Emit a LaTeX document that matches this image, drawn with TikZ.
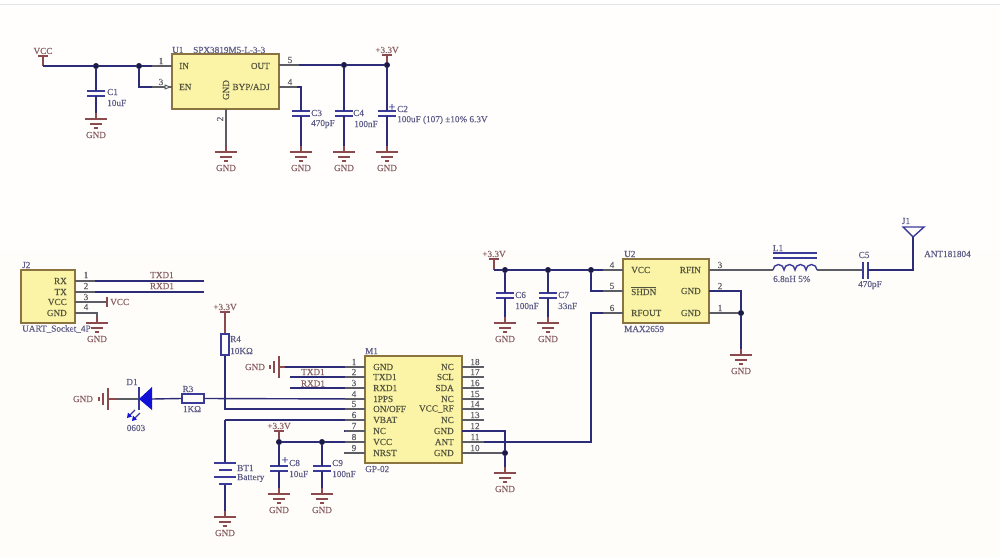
\documentclass[tikz,border=0pt]{standalone}
\usepackage{fontspec}
\setmainfont[RawFeature={embolden=0.35}]{Liberation Serif}
\definecolor{bgc}{HTML}{FFFDF9}
\definecolor{wirec}{HTML}{2C2C78}
\definecolor{pinc}{HTML}{5C5C64}
\definecolor{pwrc}{HTML}{8A4A4E}
\definecolor{capc}{HTML}{3A3A98}
\definecolor{netc}{HTML}{8A6266}
\definecolor{desc}{HTML}{5E5E88}
\definecolor{chipc}{HTML}{55553F}
\definecolor{chipf}{HTML}{FBF4A6}
\definecolor{chipd}{HTML}{8C7440}
\definecolor{ledc}{HTML}{1010D8}
\tikzset{
  x=1pt,y=-1pt,
  wire/.style={draw=wirec,line width=1.4pt},
  pinw/.style={draw=pinc,line width=1.4pt},
  stem/.style={draw=pwrc,line width=1.4pt},
  plate/.style={draw=capc,line width=1.8pt},
  chipbox/.style={draw=chipd,fill=chipf,line width=1.4pt,inner sep=0pt},
  dot/.style={circle,fill=wirec!60!black,inner sep=0pt,minimum size=6pt},
  tx/.style={inner sep=0pt,font=\fontsize{9.2}{10}\selectfont},
  net/.style={tx,text=netc},
  des/.style={tx,text=desc},
  chipl/.style={tx,text=chipc},
  pnum/.style={tx,text=pinc},
}
% ground symbol (down): stem top is the named coordinate
\newcommand\gndd[3]{%
  \coordinate (#1) at (#2,#3-6);
  \draw[stem] (#2,#3-6) -- (#2,#3);
  \draw[stem] (#2-11,#3) -- (#2+11,#3);
  \draw[stem] (#2-6,#3+5) -- (#2+6,#3+5);
  \draw[stem] (#2-2,#3+9) -- (#2+2,#3+9);
  \node[net] (#1-t) at (#2,#3+16) {GND};}
% ground symbol (left)
\newcommand\gndh[4]{%
  \coordinate (#1) at (#2+6,#3);
  \draw[stem] (#2+6,#3) -- (#2,#3);
  \draw[stem] (#2,#3-11) -- (#2,#3+11);
  \draw[stem] (#2-5,#3-6) -- (#2-5,#3+6);
  \draw[stem] (#2-9,#3-2) -- (#2-9,#3+2);
  \node[net] (#1-t) at (#4,#3) {GND};}
% power port
\newcommand\pwr[4]{%
  \coordinate (#1) at (#2,#3);
  \draw[stem] (#2-5,#3) -- (#2+5,#3);
  \node[net] (#1-t) at (#2,#3-5) {#4};}
% capacitor with horizontal plates
\newcommand\capv[3]{%
  \coordinate (#1-a) at (#2,#3);
  \coordinate (#1-b) at (#2,#3+5);
  \draw[plate] (#2-9,#3) -- (#2+9,#3);
  \draw[plate] (#2-9,#3+5) -- (#2+9,#3+5);}
\begin{document}
\begin{tikzpicture}
\useasboundingbox (0,0) rectangle (1000,557);
\fill[white] (0,0) rectangle (1000,557);
\fill[bgc!50!white] (0,6) rectangle (1000,250);
\fill[bgc] (0,250) rectangle (1000,557);
\draw[black!10,line width=1pt] (0,4) -- (1000,4);

%% ---------- Regulator ----------
\node[chipbox,minimum width=107pt,minimum height=55pt] (U1) at (225.5,81.5) {};
\gndd{g1}{96}{119}
\gndd{g2}{226}{152}
\gndd{g3}{301}{152}
\gndd{g4}{344}{152}
\gndd{g5}{387}{152}
\pwr{vcc1}{43}{56}{VCC}
\pwr{v33a}{387}{55}{+3.3V}
\capv{C1}{96}{91}
\capv{C3}{301}{111}
\capv{C4}{344}{111}
\capv{C2}{387}{111}
\coordinate (w1) at (43,66);
\node[dot] (j1) at (96,66) {};
\node[dot] (j2) at (139,66) {};
\coordinate (u1in) at (172,66);
\coordinate (u1en) at (172,87);
\coordinate (w2) at (139,87);
\coordinate (u1out) at (279,65);
\coordinate (u1byp) at (279,87);
\coordinate (w3) at (301,87);
\node[dot] (j3) at (344,65) {};
\node[dot] (j4) at (387,65) {};
\coordinate (u1gnd) at (226,109);
\draw[stem] (vcc1) -- (w1);
\draw[wire] (w1) -- (j1) -- (j2) -- (u1in);
\draw[wire] (j1) -- (C1-a);
\draw[wire] (C1-b) -- (g1);
\draw[wire] (j2) -- (w2) -- (u1en);
\draw[wire] (u1out) -- (j3) -- (j4);
\draw[stem] (v33a) -- (j4);
\draw[wire] (j3) -- (C4-a);
\draw[wire] (C4-b) -- (g4);
\draw[wire] (j4) -- (C2-a);
\draw[wire] (C2-b) -- (g5);
\draw[wire] (u1byp) -- (w3) -- (C3-a);
\draw[wire] (C3-b) -- (g3);
\draw[pinw] (u1gnd) -- (g2);
\draw[pinw] (152,66) -- (u1in);
\draw[pinw] (152,87) -- (u1en);
\draw[pinw] (u1out) -- (299,65);
\draw[pinw] (u1byp) -- (297,87);
\draw[draw=pinc,fill=white,line width=1pt] (165,85) -- (170,87) -- (165,89) -- cycle;
\node[des,anchor=west] (U1d) at (172,50) {U1};
\node[des,anchor=west] (U1v) at (193,50) {SPX3819M5-L-3-3};
\node[chipl,anchor=west] (u1a) at (179,66) {IN};
\node[chipl,anchor=west] (u1b) at (179,87) {EN};
\node[chipl,anchor=east] (u1c) at (270,66) {OUT};
\node[chipl,anchor=east] (u1d) at (270,87) {BYP/ADJ};
\node[chipl,rotate=90] (u1e) at (226,90) {GND};
\node[pnum] (n1) at (161,61) {1};
\node[pnum] (n2) at (161,82) {3};
\node[pnum,rotate=90] (n3) at (220,119) {2};
\node[pnum] (n4) at (290,60) {5};
\node[pnum] (n5) at (290,82) {4};
\node[des,anchor=west] (C1d) at (107,92) {C1};
\node[des,anchor=west] (C1v) at (107,103) {10uF};
\node[des,anchor=west] (C3d) at (311,113) {C3};
\node[des,anchor=west] (C3v) at (311,124) {470pF};
\node[des,anchor=west] (C4d) at (353,113) {C4};
\node[des,anchor=west] (C4v) at (354,124) {100nF};
\node[des,anchor=west] (C2d) at (397,109) {C2};
\node[des,anchor=west] (C2v) at (397,120) {100uF (107) ±10\% 6.3V};
\node[tx,text=capc,font=\fontsize{12}{12}\selectfont] (C2p) at (392,107.5) {+};

%% ---------- UART connector ----------
\node[chipbox,minimum width=54pt,minimum height=53pt] (J2) at (48,296.5) {};
\coordinate (jp1) at (75,281);
\coordinate (jp2) at (75,292);
\coordinate (jp3) at (75,302);
\coordinate (jp4) at (75,313);
\coordinate (jw1) at (204,281);
\coordinate (jw2) at (204,292);
\coordinate (jv) at (107,302);
\coordinate (jg) at (97,313);
\gndd{g6}{97}{323}
\draw[wire] (jp1) -- (jw1);
\draw[wire] (jp2) -- (jw2);
\draw[pinw] (jp1) -- (95,281);
\draw[pinw] (jp2) -- (95,292);
\draw[pinw] (jp3) -- (jv);
\draw[pinw] (jp4) -- (jg) -- (g6);
\draw[stem] (107,297) -- (107,307);
\node[net,anchor=west] (jvt) at (110,302) {VCC};
\node[des,anchor=west] (J2d) at (22,265) {J2};
\node[des,anchor=west] (J2v) at (22,329) {UART\_Socket\_4P};
\node[chipl,anchor=east] (ja) at (67,281) {RX};
\node[chipl,anchor=east] (jb) at (67,292) {TX};
\node[chipl,anchor=east] (jc) at (67,302) {VCC};
\node[chipl,anchor=east] (jd) at (67,313) {GND};
\node[pnum] (n6) at (86,275) {1};
\node[pnum] (n7) at (86,286) {2};
\node[pnum] (n8) at (86,297) {3};
\node[pnum] (n9) at (86,307) {4};
\node[net] (tx1) at (162,275) {TXD1};
\node[net] (rx1) at (162,286) {RXD1};

%% ---------- GP-02 module ----------
\node[chipbox,minimum width=97pt,minimum height=107pt] (M1) at (413.5,409.5) {};
\gndh{g7}{279}{367}{255}
\gndh{g8}{108}{399}{83}
\gndd{g9}{225}{517}
\gndd{g10}{279}{494}
\gndd{g11}{322}{494}
\gndd{g12}{505}{473}
\pwr{v33b}{225}{312}{+3.3V}
\pwr{v33c}{279}{431}{+3.3V}
\capv{C8}{279}{466}
\capv{C9}{322}{466}
% R4, R3
\node[draw=capc,fill=bgc,line width=1.3pt,minimum width=8pt,minimum height=21pt,inner sep=0pt] (R4) at (225,344.5) {};
\node[draw=capc,fill=bgc,line width=1.3pt,minimum width=22pt,minimum height=9pt,inner sep=0pt] (R3) at (193,398.5) {};
\coordinate (m4) at (365,399);
\coordinate (m5) at (365,409);
\coordinate (m6) at (365,420);
\coordinate (w5) at (225,409);
\coordinate (w6) at (225,420);
\coordinate (w7) at (225,463);
\coordinate (m8) at (365,442);
\coordinate (m1) at (365,367);
\coordinate (m2) at (365,377);
\coordinate (m3) at (365,388);
\coordinate (m2a) at (290,377);
\coordinate (m3a) at (290,388);
\coordinate (m7) at (365,431);
\coordinate (m7a) at (344,431);
\coordinate (m9) at (365,453);
\coordinate (m9a) at (344,453);
\node[dot] (j5) at (279,442) {};
\node[dot] (j6) at (322,442) {};
\draw[stem] (v33b) -- (R4.north);
\draw[wire] (R4.south) -- (w5) -- (m5);
\draw[wire] (R3.east) -- (m4);
\draw[wire] (w6) -- (m6);
\draw[wire] (w6) -- (w7);
\coordinate (b2) at (225,484);
\draw[wire] (b2) -- (g9);
\draw[stem] (v33c) -- (j5);
\draw[wire] (j5) -- (j6) -- (m8);
\draw[wire] (j5) -- (C8-a);
\draw[wire] (C8-b) -- (g10);
\draw[wire] (j6) -- (C9-a);
\draw[wire] (C9-b) -- (g11);
\draw[wire] (g7) -- (m1);
\draw[wire] (m2a) -- (m2);
\draw[wire] (m3a) -- (m3);
\draw[wire] (m7a) -- (m7);
\draw[pinw] (m9a) -- (m9);
\foreach \yy in {367,377,388,399,409,420,431,442} \draw[pinw] (345,\yy) -- (365,\yy);
% battery
\draw[plate] (214,463) -- (236,463);
\draw[plate] (219,470) -- (232,470);
\draw[plate] (214,477) -- (236,477);
\draw[plate] (219,484) -- (232,484);
% right-side pins
\foreach \yy in {367,377,388,399,409,420,431,442,453} \draw[pinw] (462,\yy) -- (484,\yy);
\coordinate (mr12) at (462,431);
\coordinate (mr11) at (462,442);
\coordinate (mr10) at (462,453);
\coordinate (w8) at (505,431);
\node[dot] (j7) at (505,453) {};
\draw[wire] (mr12) -- (w8) -- (j7) -- (g12);
\draw[pinw] (mr10) -- (j7);
\node[des,anchor=west] (M1d) at (365,351) {M1};
\node[des,anchor=west] (M1v) at (365,469) {GP-02};
\foreach \nm/\yy/\tt in {a/367/GND,b/377/TXD1,c/388/RXD1,d/399/1PPS,e/409/{ON/OFF},f/420/VBAT,g/431/NC,h/442/VCC,i/453/NRST}
  \node[chipl,anchor=west] (ml\nm) at (373,\yy) {\tt};
\foreach \nm/\yy/\tt in {a/367/NC,b/377/SCL,c/388/SDA,d/399/NC,e/409/VCC\_RF,f/420/NC,g/431/GND,h/442/ANT,i/453/GND}
  \node[chipl,anchor=east] (mr\nm) at (454,\yy) {\tt};
\foreach \yy/\tt in {362/1,372/2,383/3,394/4,404/5,415/6,426/7,437/8,448/9}
  \node[pnum] (ln\tt) at (354,\yy) {\tt};
\foreach \yy/\tt in {362/18,372/17,383/16,394/15,404/14,415/13,426/12,437/11,448/10}
  \node[pnum] (rn\tt) at (475,\yy) {\tt};
\node[net] (tx2) at (313,372) {TXD1};
\node[net] (rx2) at (313,383.5) {RXD1};
\node[des,anchor=west] (R4d) at (230,339) {R4};
\node[des,anchor=west] (R4v) at (230,351) {10KΩ};
\node[des] (R3d) at (188,389) {R3};
\node[des] (R3v) at (192,409) {1KΩ};
\node[des,anchor=west] (BTd) at (237,468) {BT1};
\node[des,anchor=west] (BTv) at (237,478) {Battery};
\node[des,anchor=west] (C8d) at (289,463) {C8};
\node[des,anchor=west] (C8v) at (289,474) {10uF};
\node[tx,text=capc,font=\fontsize{12}{12}\selectfont] (C8p) at (285,460.5) {+};
\node[des,anchor=west] (C9d) at (332,463) {C9};
\node[des,anchor=west] (C9v) at (332,474) {100nF};

% LED
\coordinate (Dk) at (139,399);
\coordinate (Da) at (152,399);
\draw[stem] (g8) -- (118,399);
\draw[pinw] (118,399) -- (Dk);
\draw[wire] (Da) -- (R3.west);
\draw[draw=capc,line width=1.5pt] (139,387) -- (139,410);
\fill[ledc] (139,399) -- (152,387) -- (152,410) -- cycle;
\draw[draw=capc,line width=1.3pt] (135,410) -- (129,416);
\fill[ledc] (127,418) -- (128,412.5) -- (132,416.5) -- cycle;
\draw[draw=capc,line width=1.3pt] (140,413) -- (134,419);
\fill[ledc] (132,421) -- (133,415.5) -- (137,419.5) -- cycle;
\node[des] (D1d) at (132,382) {D1};
\node[des] (D1v) at (136,428) {0603};

%% ---------- MAX2659 ----------
\node[chipbox,minimum width=86pt,minimum height=64pt] (U2) at (666,291) {};
\gndd{g13}{505}{323}
\gndd{g14}{548}{323}
\gndd{g15}{741}{355}
\pwr{v33d}{494}{259}{+3.3V}
\capv{C6}{505}{293}
\capv{C7}{548}{293}
\coordinate (w9) at (494,270);
\node[dot] (j8) at (505,270) {};
\node[dot] (j9) at (548,270) {};
\node[dot] (j10) at (591,270) {};
\coordinate (u2p4) at (623,270);
\coordinate (u2p5) at (623,291);
\coordinate (u2p6) at (623,313);
\coordinate (w10) at (591,291);
\coordinate (w11) at (591,313);
\coordinate (w12) at (591,442);
\coordinate (u2p3) at (709,270);
\coordinate (u2p2) at (709,291);
\coordinate (u2p1) at (709,313);
\coordinate (w13) at (741,291);
\node[dot] (j11) at (741,313) {};
\draw[stem] (v33d) -- (w9);
\draw[wire] (w9) -- (j8) -- (j9) -- (j10) -- (u2p4);
\draw[wire] (j10) -- (w10) -- (u2p5);
\draw[wire] (u2p6) -- (w11) -- (w12) -- (mr11);
\draw[pinw] (mr11) -- (484,442);
\draw[wire] (j8) -- (C6-a);
\draw[wire] (C6-b) -- (g13);
\draw[wire] (j9) -- (C7-a);
\draw[wire] (C7-b) -- (g14);
\draw[wire] (u2p2) -- (w13) -- (j11) -- (g15);
\draw[pinw] (u2p1) -- (j11);
\draw[pinw] (603,270) -- (u2p4);
\draw[pinw] (603,291) -- (u2p5);
\draw[pinw] (603,313) -- (u2p6);
\node[des,anchor=west] (U2d) at (624,254) {U2};
\node[des,anchor=west] (U2v) at (624,329) {MAX2659};
\node[chipl,anchor=west] (u2a) at (631,270) {VCC};
\node[chipl,anchor=west] (u2b) at (631,291) {\raisebox{0pt}{$\overline{\hbox{SHDN}}$}};
\node[chipl,anchor=west] (u2c) at (631,313) {RFOUT};
\node[chipl,anchor=east] (u2d) at (701,270) {RFIN};
\node[chipl,anchor=east] (u2e) at (701,291) {GND};
\node[chipl,anchor=east] (u2f) at (701,313) {GND};
\node[pnum] (n10) at (612,265) {4};
\node[pnum] (n11) at (612,286) {5};
\node[pnum] (n12) at (612,308) {6};
\node[pnum] (n13) at (720,265) {3};
\node[pnum] (n14) at (720,286) {2};
\node[pnum] (n15) at (720,308) {1};
\node[des,anchor=west] (C6d) at (515,295) {C6};
\node[des,anchor=west] (C6v) at (515,306) {100nF};
\node[des,anchor=west] (C7d) at (558,295) {C7};
\node[des,anchor=west] (C7v) at (558,306) {33nF};

% inductor, C5, antenna
\coordinate (La) at (773,270);
\coordinate (Lb) at (817,270);
\coordinate (C5a) at (863,270);
\coordinate (C5b) at (868,270);
\coordinate (w14) at (913,270);
\coordinate (ant) at (913,237);
\draw[pinw] (u2p3) -- (La);
\draw[draw=capc,line width=1.4pt] (La) arc[start angle=180,end angle=360,radius=5.5]
  arc[start angle=180,end angle=360,radius=5.5]
  arc[start angle=180,end angle=360,radius=5.5]
  arc[start angle=180,end angle=360,radius=5.5];
\draw[plate] (773,253) -- (817,253);
\draw[plate] (773,258) -- (817,258);
\draw[pinw] (Lb) -- (C5a);
\draw[plate] (863,262) -- (863,279);
\draw[plate] (868,262) -- (868,279);
\draw[wire] (C5b) -- (w14) -- (ant);
\draw[draw=capc,line width=1.4pt] (903,227) -- (924,227) -- (ant) -- cycle;
\node[des] (L1d) at (778,248) {L1};
\node[des,anchor=west] (L1v) at (773,279) {6.8nH 5\%};
\node[des] (C5d) at (864,255) {C5};
\node[des] (C5v) at (870,285) {470pF};
\node[des] (J1d) at (906,221) {J1};
\node[des,anchor=west] (J1v) at (924,254) {ANT181804};
\end{tikzpicture}
\end{document}
